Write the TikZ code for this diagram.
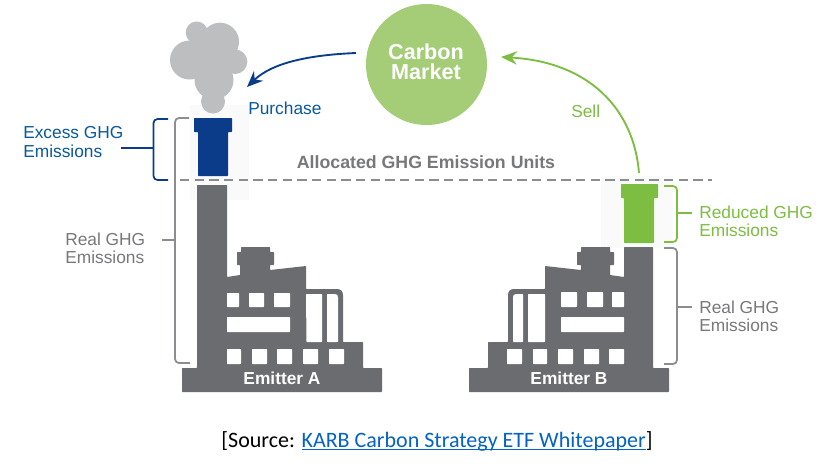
\documentclass[tikz,border=0pt]{standalone}
\usepackage{fontspec}
\setmainfont{Liberation Sans}
\newfontfamily\srcfont{Carlito}
\usetikzlibrary{arrows.meta}
\definecolor{fac}{HTML}{6B6C70}
\definecolor{smoke}{HTML}{BCBEC0}
\definecolor{navy}{HTML}{0B3C8A}
\definecolor{leaf}{HTML}{7DBD42}
\definecolor{mkt}{HTML}{A5CD78}
\definecolor{brk}{HTML}{8C8D90}
\definecolor{lbl}{HTML}{77787B}
\definecolor{lnk}{HTML}{0563C1}
\newcommand{\linktext}[1]{\setbox0=\hbox{#1}\rlap{\rule[-2.4pt]{\wd0}{0.8pt}}\box0}
\tikzset{
  facfill/.style={fill=fac,draw=none,rounded corners=0.4pt},
  win/.style={fill=white,draw=none,rounded corners=0.5pt},
  brace/.style={line width=1.3pt,rounded corners=3pt},
  stub/.style={line width=1.2pt},
  lab/.style={font=\fontsize{13}{13.6}\selectfont,align=left,inner sep=0pt,anchor=west},
  emit/.style={font=\fontsize{13}{14}\selectfont\bfseries,text=white,inner sep=0pt},
  puff/.style={fill=smoke,draw=none},
  flow/.style={line width=1.4pt,-{Stealth[length=12pt,width=10pt,inset=4pt]}}
}
\begin{document}
\begin{tikzpicture}[x=0.75pt,y=-0.75pt]
\useasboundingbox (0,0) rectangle (838,465);
\fill[white] (0,0) rectangle (838,465);
% faint halos
\fill[black!2] (190,105) rectangle (249,200);
\fill[black!2] (601,176) rectangle (673,248);
% smoke
\fill[puff] (196.7,32.5) circle (11);
\fill[puff] (220,41.7) circle (19);
\fill[puff] (189.5,60) circle (19.5);
\fill[puff] (235,61.7) circle (12.3);
\fill[puff] (208,52) circle (20);
\fill[puff] (222,62) circle (14);
\fill[puff] (214,80) circle (19.5);
\fill[puff] (213,101.5) circle (12);
% Emitter A
\fill[facfill] (182,368) -- (197,368) -- (197,185) -- (227,185) -- (227,277) -- (240,275) -- (240,265) -- (237,265) -- (237,252) -- (241,252) -- (241,247) -- (270,247) -- (270,252) -- (274,252) -- (274,265) -- (270,265) -- (270,270) -- (306,266) -- (306,289) -- (336,289) .. controls (341,289) and (343,291) .. (343,296) -- (343,342) -- (363,342) -- (363,368) -- (382,368) -- (382,392) -- (182,392) -- cycle;
\fill[win] (306,294) -- (322,294) -- (322,342) -- (306.5,342) -- cycle;
\fill[win] (327,294) -- (334,294) .. controls (337,294) and (338,295) .. (338,298) -- (338,342) -- (327,342) -- cycle;
\fill[win] (227,293) rectangle (239,307);
\fill[win] (249,293) rectangle (264,307);
\fill[win] (274,293) rectangle (290,307);
\fill[win] (227,317) rectangle (290,332);
\foreach \x/\w in {227/14,252/15,277/15,303/15,329/15}{\fill[win] (\x,349) rectangle (\x+\w,364);}
\node[emit] (emitA) at (282,378.5) {Emitter A};
% Emitter B
\fill[facfill] (669,368) -- (653,368) -- (653,247) -- (624,247) -- (624,277) -- (610,275) -- (610,265) -- (614,265) -- (614,252) -- (610,252) -- (610,247) -- (581,247) -- (581,252) -- (577,252) -- (577,265) -- (581,265) -- (581,270) -- (545,266) -- (545,289) -- (515,289) .. controls (510,289) and (508,291) .. (508,296) -- (508,342) -- (488,342) -- (488,368) -- (469,368) -- (469,392) -- (669,392) -- cycle;
\fill[win] (545,294) -- (528,294) -- (528,342) -- (545,342) -- cycle;
\fill[win] (523,294) -- (517,294) .. controls (514,294) and (513,295) .. (513,298) -- (513,342) -- (523,342) -- cycle;
\fill[win] (561,292) rectangle (577,307);
\fill[win] (587,292) rectangle (603,307);
\fill[win] (612,292) rectangle (624,307);
\fill[win] (561,317) rectangle (624,332);
\foreach \x/\w in {507/15,533/14,558/15,584/15,609/15}{\fill[win] (\x,349) rectangle (\x+\w,364);}
\node[emit] (emitB) at (569,378.5) {Emitter B};
% stacks
\fill[navy,rounded corners=0.5pt] (194,118) -- (232,118) -- (232,132) -- (228,132) -- (228,176) -- (198,176) -- (198,132) -- (194,132) -- cycle;
\fill[leaf,rounded corners=0.5pt] (621,184) -- (658,184) -- (658,198) -- (654,198) -- (654,243) -- (624,243) -- (624,198) -- (621,198) -- cycle;
% allowance line
\coordinate (dashL) at (180,180);
\coordinate (dashR) at (712,180);
\draw[brk,line width=1.2pt,dash pattern=on 7pt off 4pt] (dashL) -- (dashR);
\node[font=\fontsize{13.3}{14}\selectfont\bfseries,text=lbl,inner sep=0pt] (alloc) at (426,162) {Allocated GHG Emission Units};
% market
\node[circle,fill=mkt,draw=none,minimum size=90.75pt,inner sep=0pt] (market) at (426.5,64.5) {};
\node[align=center,text=white,inner sep=0pt,font=\fontsize{16.2}{15}\selectfont\bfseries] (marketText) at (426,62) {Carbon\\Market};
% arrows
\coordinate (buyEnd) at (247,87);
\coordinate (sellStart) at (639,173);
\coordinate (sellEnd) at (501,57);
\coordinate (buyStart) at (356,53);
\draw[flow,navy] (buyStart) .. controls (308,55) and (272,63) .. (buyEnd);
\draw[flow,leaf] (sellStart) .. controls (634,110) and (590,62) .. (sellEnd);
\node[lab,text=navy!85!cyan] (purchase) at (248,108) {Purchase};
\node[lab,text=leaf] (sell) at (571,111) {Sell};
% brackets A
\coordinate (ba1) at (168,119);\coordinate (ba2) at (153.5,119);\coordinate (ba3) at (153.5,180);\coordinate (ba4) at (168,180);
\coordinate (bam) at (153.5,148);\coordinate (bae) at (121,148);
\draw[brace,navy] (ba1) -- (ba2) -- (ba3) -- (ba4);
\draw[stub,navy] (bam) -- (bae);
\node[lab,text=navy!85!cyan,font=\fontsize{13}{14.25}\selectfont] (excess) at (23,142.5) {Excess GHG\\Emissions};
\coordinate (bg1) at (189,118);\coordinate (bg2) at (175,118);\coordinate (bg3) at (175,363);\coordinate (bg4) at (190,363);
\coordinate (bgm) at (175,240);\coordinate (bge) at (162,240);
\draw[brace,brk] (bg1) -- (bg2) -- (bg3) -- (bg4);
\draw[stub,brk] (bgm) -- (bge);
\node[lab,text=lbl] (realA) at (65,248) {Real GHG\\Emissions};
% brackets B
\coordinate (gr1) at (664,186);\coordinate (gr2) at (677,186);\coordinate (gr3) at (677,242);\coordinate (gr4) at (664,242);
\coordinate (grm) at (677,213);\coordinate (gre) at (692,213);
\draw[brace,leaf] (gr1) -- (gr2) -- (gr3) -- (gr4);
\draw[stub,leaf] (grm) -- (gre);
\node[lab,text=leaf] (reduced) at (699,221) {Reduced GHG\\Emissions};
\coordinate (rb1) at (664,248);\coordinate (rb2) at (677,248);\coordinate (rb3) at (677,364);\coordinate (rb4) at (664,364);
\coordinate (rbm) at (677,307);\coordinate (rbe) at (692,307);
\draw[brace,brk] (rb1) -- (rb2) -- (rb3) -- (rb4);
\draw[stub,brk] (rbm) -- (rbe);
\node[lab,text=lbl] (realB) at (699,316) {Real GHG\\Emissions};
% source
\node[font=\fontsize{16.5}{18}\srcfont,text=black,inner sep=0pt] (source) at (437,441) {[Source: \textcolor{lnk}{\linktext{KARB Carbon Strategy ETF Whitepaper}}]};
\end{tikzpicture}
\end{document}
